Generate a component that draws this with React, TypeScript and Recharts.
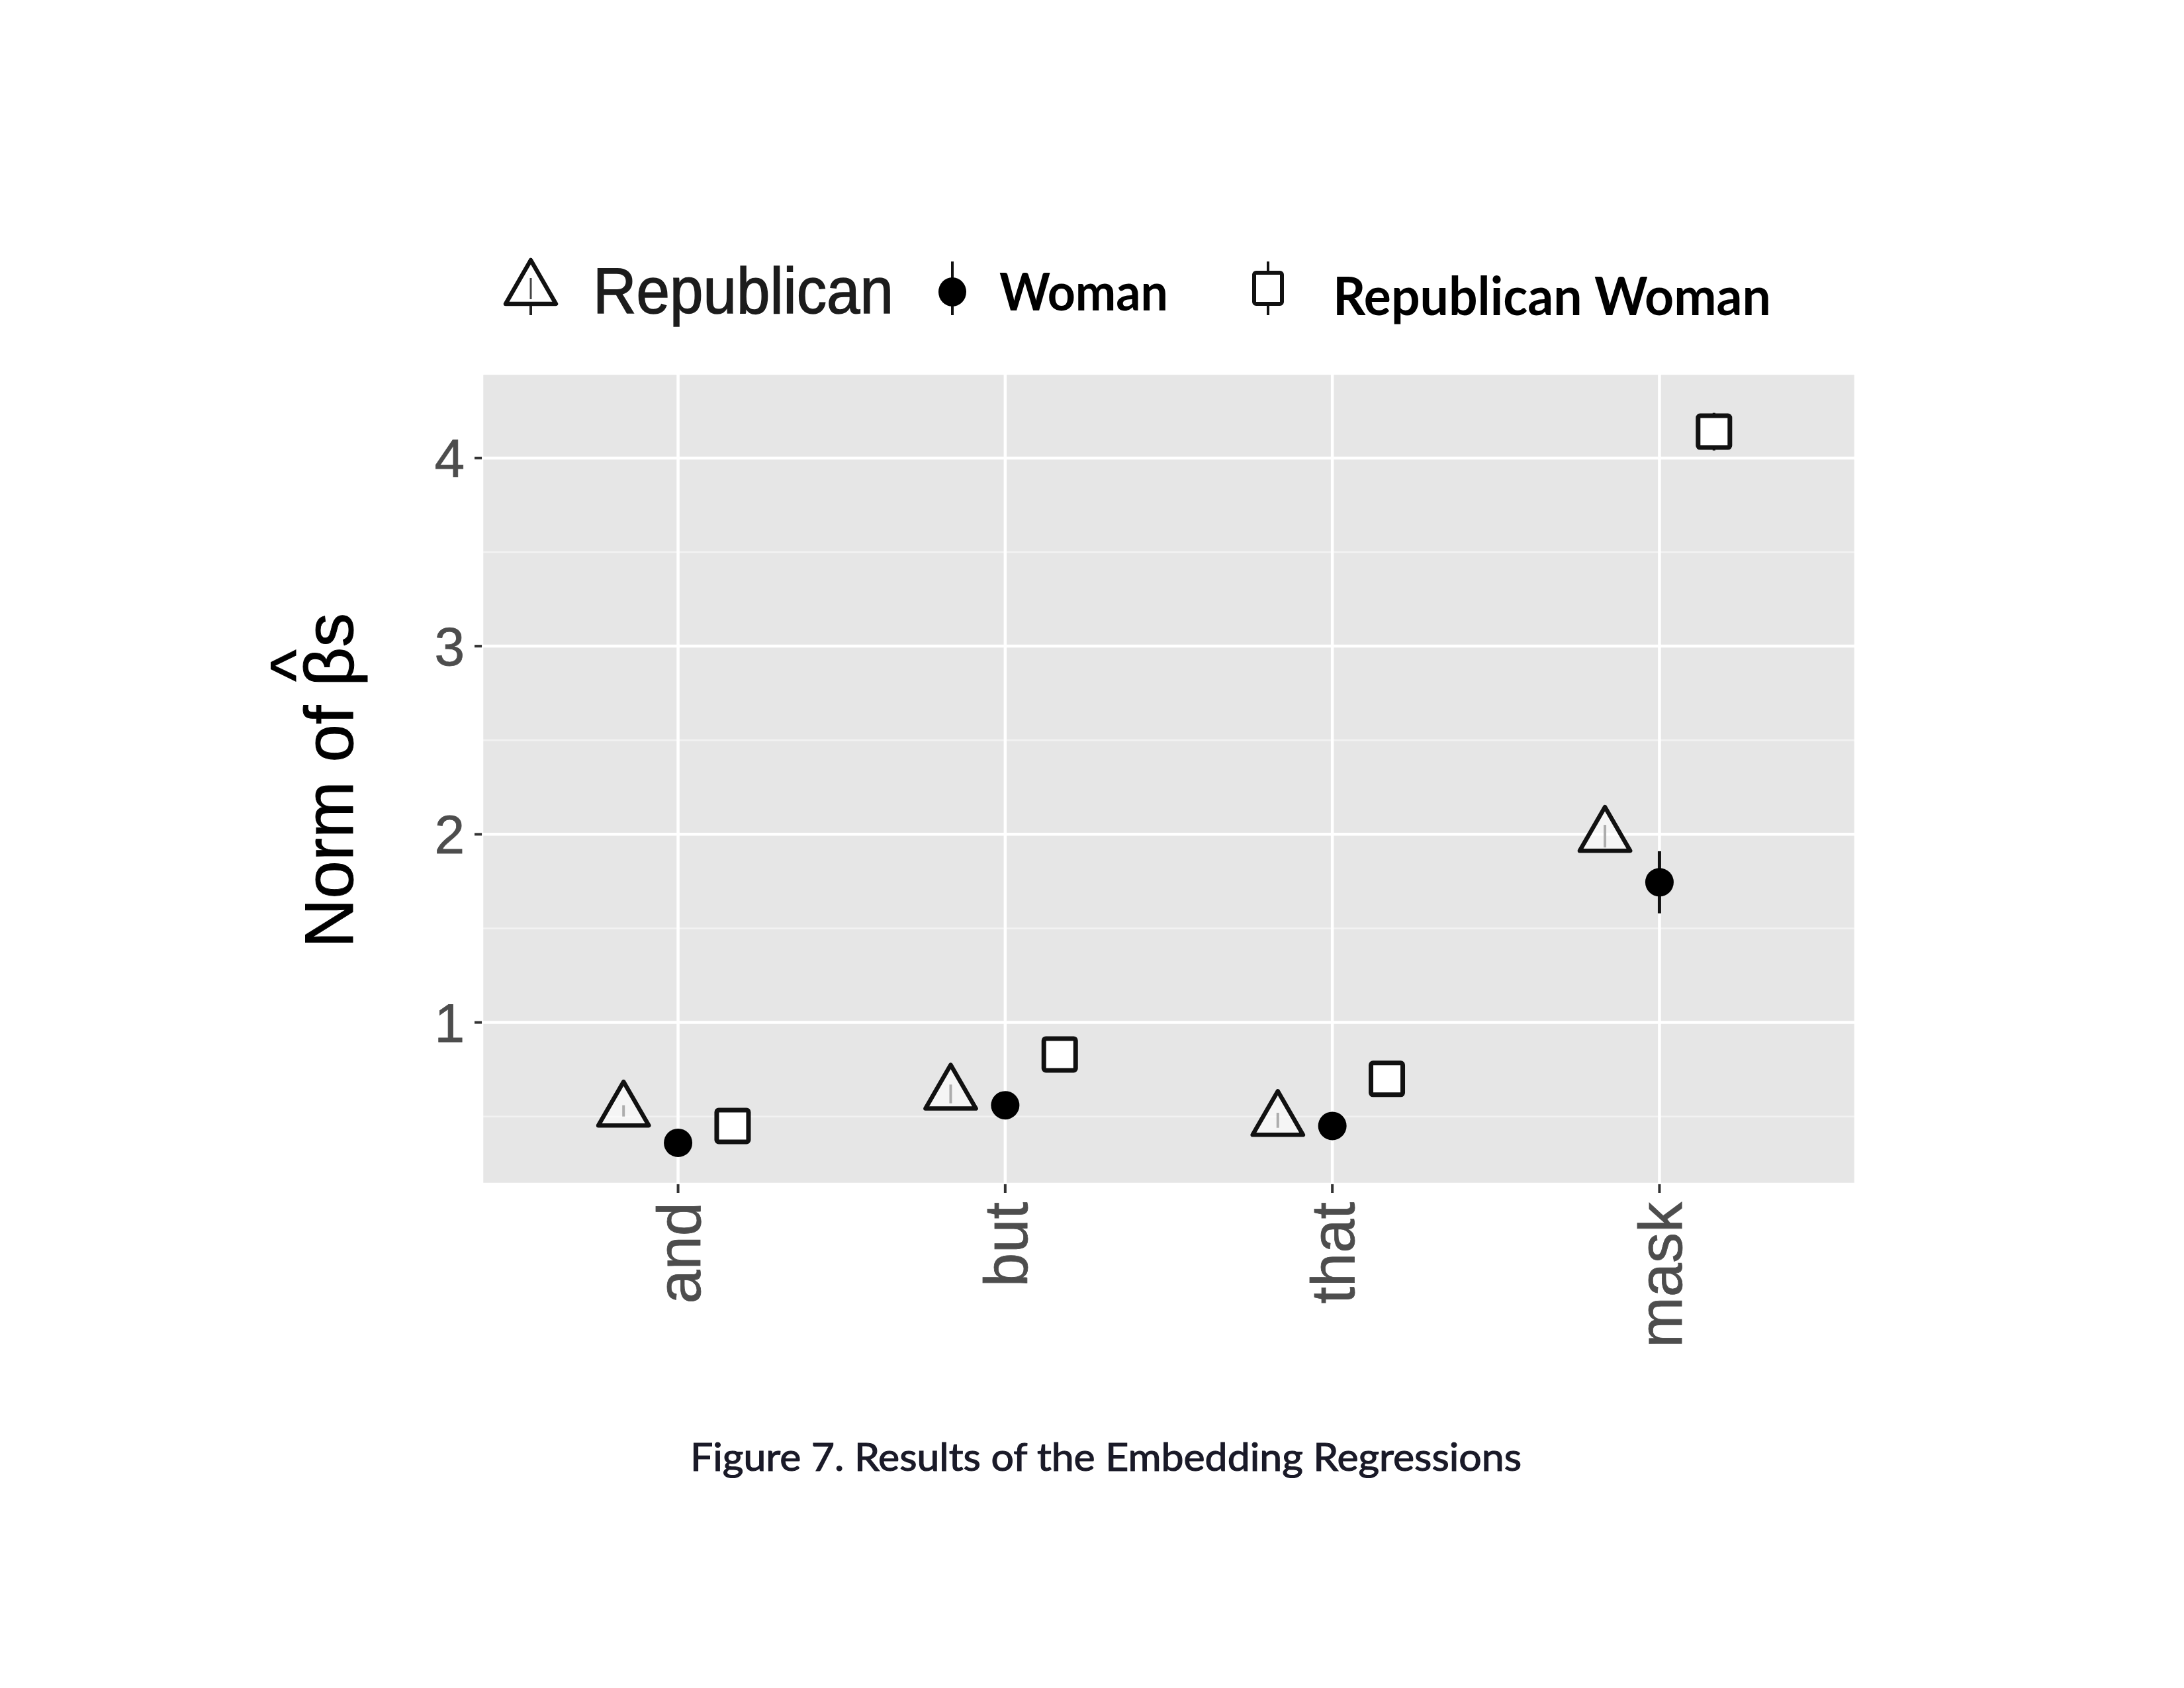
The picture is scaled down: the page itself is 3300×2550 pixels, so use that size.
import React from "react";
import {
  CartesianGrid,
  ErrorBar,
  Scatter,
  ScatterChart,
  XAxis,
  YAxis,
} from "recharts";

// values (norm of beta-hat per word)
const categories = ["and", "but", "that", "mask"];
const republican = [0.53, 0.62, 0.48, 1.99];
const republicanErr = [0.03, 0.05, 0.04, 0.06];
const woman = [0.36, 0.56, 0.45, 1.745];
const womanErr = [0.02, 0.02, 0.02, 0.165];
const republicanWoman = [0.45, 0.83, 0.7, 4.14];
const republicanWomanErr = [0.05, 0.06, 0.06, 0.1];
const yTicks = [1, 2, 3, 4];
const yMinor = [0.5, 1.5, 2.5, 3.5];
const xTicks = [1, 2, 3, 4];

// position_dodge(width = 0.5) with three groups
const dodge = 0.5 / 3;

const toPoints = (values: number[], errs: number[], offset: number) =>
  values.map((v, i) => ({ x: i + 1 + offset, y: v, err: errs[i], word: categories[i] }));

const repData = toPoints(republican, republicanErr, -dodge);
const womanData = toPoints(woman, womanErr, 0);
const rwData = toPoints(republicanWoman, republicanWomanErr, dodge);

const ARIAL = "'Liberation Sans', Arial, Helvetica, sans-serif";
const BOLD = "Lato, 'Open Sans', sans-serif";

const TriangleShape = (props: any) => {
  const { cx, cy } = props;
  const r = 44;
  const hw = (r * Math.sqrt(3)) / 2;
  return (
    <polygon
      points={`${cx},${cy - r} ${cx + hw},${cy + r / 2} ${cx - hw},${cy + r / 2}`}
      fill="rgba(255,255,255,0.6)"
      stroke="#111"
      strokeWidth={6.5}
      strokeLinejoin="round"
    />
  );
};

const CircleShape = (props: any) => {
  const { cx, cy } = props;
  return <circle cx={cx} cy={cy} r={21.5} fill="#000" />;
};

const SquareShape = (props: any) => {
  const { cx, cy } = props;
  const s = 48;
  return (
    <rect
      x={cx - s / 2}
      y={cy - s / 2}
      width={s}
      height={s}
      rx={3}
      fill="#fff"
      stroke="#111"
      strokeWidth={7}
    />
  );
};

const XTick = (props: any) => {
  const { x, y, payload } = props;
  return (
    <text
      x={x}
      y={y}
      transform={`rotate(-90, ${x}, ${y})`}
      textAnchor="end"
      dy="0.36em"
      fontSize={92}
      fontFamily={ARIAL}
      fill="#4D4D4D"
      stroke="#4D4D4D"
      strokeWidth={0.8}
    >
      {categories[payload.value - 1]}
    </text>
  );
};

function Overlay() {
  return (
    <svg
      width={3300}
      height={2550}
      style={{ position: "absolute", left: 0, top: 0, pointerEvents: "none" }}
    >
      {/* legend */}
      <g>
        <line x1={802} y1={390} x2={802} y2={476} stroke="#222" strokeWidth={4} />
        <polygon
          points="802,393 840,459 764,459"
          fill="#fff"
          stroke="#111"
          strokeWidth={6.5}
          strokeLinejoin="round"
        />
        <line x1={802} y1={420} x2={802} y2={452} stroke="#444" strokeWidth={3} />
        <text
          x={896}
          y={473}
          fontSize={98}
          fontFamily={ARIAL}
          fill="#1c1c1c"
          stroke="#1c1c1c"
          strokeWidth={1.5}
          textLength={454}
          lengthAdjust="spacingAndGlyphs"
        >
          Republican
        </text>

        <line x1={1439} y1={395} x2={1439} y2={476} stroke="#111" strokeWidth={4} />
        <ellipse cx={1439} cy={441} rx={21} ry={22} fill="#000" />
        <text
          x={1510}
          y={469}
          fontSize={78}
          fontWeight={700}
          fontFamily={BOLD}
          fill="#000"
          textLength={255}
          lengthAdjust="spacingAndGlyphs"
        >
          Woman
        </text>

        <line x1={1916} y1={395} x2={1916} y2={476} stroke="#111" strokeWidth={4} />
        <rect x={1895} y={412} width={42} height={47} rx={3} fill="#fff" stroke="#111" strokeWidth={6} />
        <text
          x={2014}
          y={476}
          fontSize={80}
          fontWeight={700}
          fontFamily={BOLD}
          fill="#000"
          textLength={662}
          lengthAdjust="spacingAndGlyphs"
        >
          Republican Woman
        </text>
      </g>

      {/* y axis title with hat over beta */}
      <text
        x={533}
        y={1179}
        transform="rotate(-90, 533, 1179)"
        textAnchor="middle"
        fontSize={103}
        fontFamily={ARIAL}
        fill="#000"
        stroke="#000"
        strokeWidth={1}
      >
        <tspan>Norm of </tspan>
        <tspan>β</tspan>
        <tspan dx={-52} dy={-52}>^</tspan>
        <tspan dx={4} dy={52}>s</tspan>
      </text>

      {/* caption */}
      <text
        x={1043}
        y={2222}
        fontSize={58}
        fontFamily={BOLD}
        fill="#1a1a28"
        stroke="#1a1a28"
        strokeWidth={1.2}
        textLength={1256}
        lengthAdjust="spacingAndGlyphs"
      >
        Figure 7. Results of the Embedding Regressions
      </text>
    </svg>
  );
}

export default function App() {
  return (
    <div
      style={{
        position: "absolute",
        left: 0,
        top: 0,
        width: 3300,
        height: 2550,
        background: "#fff",
        overflow: "hidden",
      }}
    >
      <ScatterChart
        width={3300}
        height={2550}
        margin={{ top: 564, right: 496, bottom: 461, left: 0 }}
      >
        <CartesianGrid
          fill="#E6E6E6"
          vertical={false}
          horizontalValues={yMinor}
          stroke="#F2F2F2"
          strokeWidth={2.5}
        />
        <CartesianGrid stroke="#FFFFFF" strokeWidth={4.5} />
        <XAxis
          type="number"
          dataKey="x"
          domain={[0.4, 4.6]}
          allowDataOverflow
          ticks={xTicks}
          interval={0}
          height={300}
          axisLine={false}
          tickLine={{ stroke: "#333", strokeWidth: 4 }}
          tickSize={13}
          tickMargin={14}
          tick={<XTick />}
        />
        <YAxis
          type="number"
          dataKey="y"
          domain={[0.14, 4.45]}
          allowDataOverflow
          ticks={yTicks}
          interval={0}
          width={728}
          axisLine={false}
          tickLine={{ stroke: "#333", strokeWidth: 4 }}
          tickSize={11}
          tickMargin={15}
          tick={{ fill: "#4D4D4D", stroke: "#4D4D4D", strokeWidth: 0.8, fontSize: 82, fontFamily: ARIAL }}
        />
        <Scatter name="Republican" data={repData} shape={<TriangleShape />} isAnimationActive={false}>
          <ErrorBar dataKey="err" direction="y" width={0} stroke="#333" strokeWidth={4} isAnimationActive={false} />
        </Scatter>
        <Scatter name="Woman" data={womanData} shape={<CircleShape />} isAnimationActive={false}>
          <ErrorBar dataKey="err" direction="y" width={0} stroke="#111" strokeWidth={5} isAnimationActive={false} />
        </Scatter>
        <Scatter name="Republican Woman" data={rwData} shape={<SquareShape />} isAnimationActive={false}>
          <ErrorBar dataKey="err" direction="y" width={0} stroke="#111" strokeWidth={4} isAnimationActive={false} />
        </Scatter>
      </ScatterChart>
      <Overlay />
    </div>
  );
}
